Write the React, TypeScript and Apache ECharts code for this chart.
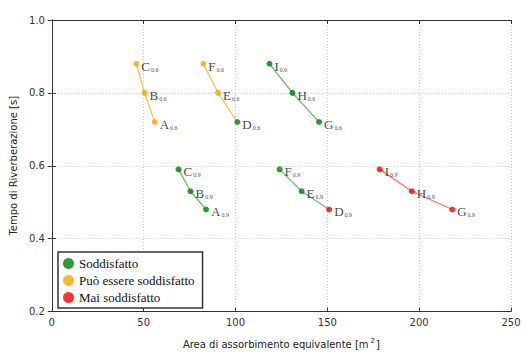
import React, { useEffect, useRef } from "react";
import * as echarts from "echarts";

// Points labelled with subscript 0.6
const names06 = ["A", "B", "C", "D", "E", "F", "G", "H", "I"];
const area06 = [56, 50.5, 46, 101, 90.5, 82.5, 145.5, 131, 118.5];
const time06 = [0.72, 0.8, 0.88, 0.72, 0.8, 0.88, 0.72, 0.8, 0.88];
const status06 = ["p", "p", "p", "s", "p", "p", "s", "s", "s"];
const lineStatus06 = ["p", "p", "s"];

// Points labelled with subscript 0.9
const names09 = ["A", "B", "C", "D", "E", "F", "G", "H", "I"];
const area09 = [84, 75.5, 69, 151, 136, 124, 218, 196, 178.5];
const time09 = [0.48, 0.53, 0.59, 0.48, 0.53, 0.59, 0.48, 0.53, 0.59];
const status09 = ["s", "s", "s", "m", "s", "s", "m", "m", "m"];
const lineStatus09 = ["s", "s", "m"];

const statusKeys = ["s", "p", "m"];
const statusNames = ["Soddisfatto", "Può essere soddisfatto", "Mai soddisfatto"];
const statusColors = ["#008000", "#FFA500", "#FF0000"];
const lineColors = ["rgba(0,128,0,0.55)", "rgba(255,165,0,0.7)", "rgba(255,0,0,0.55)"];

const xTicks = [0, 50, 100, 150, 200, 250];
const yTicks = [0.2, 0.4, 0.6, 0.8, 1.0];

const serif = "Liberation Serif";
const sans = "DejaVu Sans";

function buildOption() {
  const sets = [
    { names: names06, area: area06, time: time06, status: status06, lines: lineStatus06, sub: "0.6" },
    { names: names09, area: area09, time: time09, status: status09, lines: lineStatus09, sub: "0.9" },
  ];
  const series: any[] = [];
  sets.forEach((set, si) => {
    set.lines.forEach((ls, gi) => {
      const data: number[][] = [];
      for (let k = 0; k < 3; k++) {
        const i = gi * 3 + k;
        data.push([set.area[i], set.time[i]]);
      }
      series.push({
        type: "line",
        name: "line" + si + gi,
        data,
        symbol: "none",
        lineStyle: { color: lineColors[statusKeys.indexOf(ls)], width: 1.3 },
        z: 1,
        silent: true,
      });
    });
  });
  statusKeys.forEach((key, ki) => {
    const data: any[] = [];
    sets.forEach((set) => {
      set.names.forEach((n, i) => {
        if (set.status[i] === key) {
          data.push({ value: [set.area[i], set.time[i]], letter: n, sub: set.sub });
        }
      });
    });
    series.push({
      type: "scatter",
      name: statusNames[ki],
      data,
      symbol: "circle",
      symbolSize: 6,
      itemStyle: { color: statusColors[ki] },
      z: 3,
      label: {
        show: true,
        position: "right",
        distance: 2,
        offset: [0, 2],
        formatter: (p: any) => `{m|${p.data.letter}}{s|${p.data.sub}}`,
        rich: {
          m: { fontFamily: serif, fontSize: 13, color: "#111", verticalAlign: "bottom", lineHeight: 14 },
          s: { fontFamily: serif, fontSize: 6, color: "#111", verticalAlign: "bottom", lineHeight: 6, padding: [0, 0, 0, 1] },
        },
      },
    });
  });

  const gridLine = { show: true, lineStyle: { color: "#c8c8c8", type: [1, 2], width: 1 } };
  const frameLine = { show: true, lineStyle: { color: "#333", width: 1 } };
  return {
    animation: false,
    backgroundColor: "#fff",
    textStyle: { fontFamily: sans },
    grid: { left: 51, right: 21, top: 20, bottom: 41, containLabel: false },
    legend: {
      show: true,
      data: statusNames.map((n) => ({ name: n, icon: "circle" })),
      orient: "vertical",
      left: 58,
      top: 252,
      itemWidth: 11,
      itemHeight: 11,
      itemGap: 4,
      padding: [5, 8, 4, 5],
      backgroundColor: "#fff",
      borderColor: "#333",
      borderWidth: 1.5,
      borderRadius: 0,
      textStyle: { fontFamily: serif, fontSize: 13, color: "#111" },
      selectedMode: false,
    },
    xAxis: [
      {
        type: "value",
        min: xTicks[0],
        max: xTicks[xTicks.length - 1],
        interval: 50,
        name: "Area di assorbimento equivalente [m{sup|2}]",
        nameLocation: "middle",
        nameGap: 26,
        nameTextStyle: {
          fontFamily: sans,
          fontSize: 10,
          color: "#222",
          rich: { sup: { fontFamily: sans, fontSize: 7, color: "#222", verticalAlign: "top", padding: [0, 1, 6, 2] } },
        },
        axisLine: frameLine,
        axisTick: { show: true, inside: true, length: 4, lineStyle: { color: "#333" } },
        axisLabel: { fontFamily: sans, fontSize: 10, color: "#333", margin: 6 },
        splitLine: gridLine,
      },
      {
        type: "value",
        position: "top",
        min: xTicks[0],
        max: xTicks[xTicks.length - 1],
        interval: 50,
        axisLine: frameLine,
        axisTick: { show: true, inside: true, length: 4, lineStyle: { color: "#333" } },
        axisLabel: { show: false },
        splitLine: { show: false },
      },
    ],
    yAxis: [
      {
        type: "value",
        min: yTicks[0],
        max: yTicks[yTicks.length - 1],
        interval: 0.2,
        name: "Tempo di Riverberazione [s]",
        nameLocation: "middle",
        nameGap: 31,
        nameTextStyle: { fontFamily: sans, fontSize: 10, color: "#222" },
        axisLine: frameLine,
        axisTick: { show: true, inside: true, length: 4, lineStyle: { color: "#333" } },
        axisLabel: { fontFamily: sans, fontSize: 10, color: "#333", margin: 7, formatter: (v: number) => v.toFixed(1) },
        splitLine: gridLine,
      },
      {
        type: "value",
        position: "right",
        min: yTicks[0],
        max: yTicks[yTicks.length - 1],
        interval: 0.2,
        axisLine: frameLine,
        axisTick: { show: true, inside: true, length: 4, lineStyle: { color: "#333" } },
        axisLabel: { show: false },
        splitLine: { show: false },
      },
    ],
    series,
  };
}

export default function App() {
  const ref = useRef<HTMLDivElement>(null);
  useEffect(() => {
    if (!ref.current) return;
    const chart = echarts.init(ref.current, undefined, { renderer: "svg" });
    chart.setOption(buildOption() as any);
    return () => chart.dispose();
  }, []);
  return <div ref={ref} style={{ width: 532, height: 354, position: "absolute", left: 0, top: 0 }} />;
}
